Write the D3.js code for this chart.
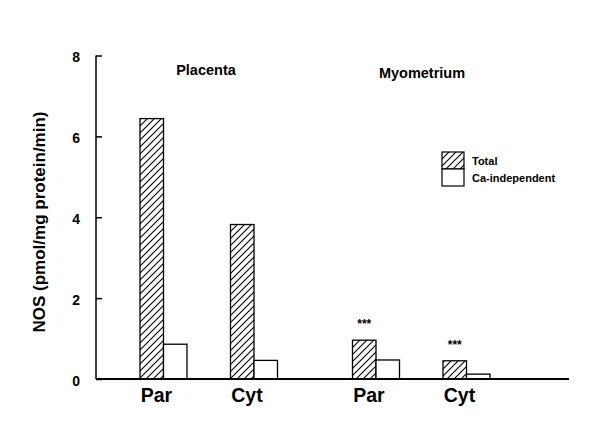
<!DOCTYPE html>
<html><head><meta charset="utf-8">
<script src="https://cdn.jsdelivr.net/npm/d3@7/dist/d3.min.js"></script>
<style>body{margin:0;background:#fff}svg{display:block}text{font-family:Arial,"Liberation Sans",sans-serif;font-weight:bold;fill:#000}</style>
</head><body><svg id="c" width="600" height="444"></svg>
<script>
const tissues = ["Placenta", "Myometrium"];
const samples = ["Par", "Cyt"];
const seriesNames = ["Total", "Ca-independent"];
const totalValues = [6.44, 3.82, 0.96, 0.45];
const caIndepValues = [0.86, 0.46, 0.47, 0.12];
const significance = ["", "", "***", "***"];
const yTicks = [0, 2, 4, 6, 8];
const yLabel = "NOS (pmol/mg protein/min)";

const svg = d3.select("#c");
const defs = svg.append("defs");
const pat = defs.append("pattern").attr("id","hatch").attr("patternUnits","userSpaceOnUse")
  .attr("width",7).attr("height",7);
pat.append("rect").attr("width",7).attr("height",7).attr("fill","#fff");
pat.append("path").attr("d","M-1,8 L8,-1 M-4,4 L4,-4 M3,11 L11,3").attr("stroke","#000").attr("stroke-width",1.1);

const y = d3.scaleLinear().domain([0,8]).range([379,55.5]);
const xOuter = d3.scaleBand().domain(tissues).range([102.5,527.5]).padding(0);
const xInner = d3.scaleBand().domain(samples).range([37.5,175]).paddingInner(1-47/90.5).paddingOuter(0);
const xSeries = d3.scaleBand().domain(seriesNames).range([0, xInner.bandwidth()]);

const rows = [];
tissues.forEach((t,ti)=>samples.forEach((s,si)=>{
  const i = ti*2+si;
  rows.push({tissue:t, sample:s, total:totalValues[i], ca:caIndepValues[i], sig:significance[i]});
}));
const gx = d => xOuter(d.tissue) + xInner(d.sample);

// bars
rows.forEach(d=>{
  [["Total",d.total,"url(#hatch)"],["Ca-independent",d.ca,"#fff"]].forEach(([k,v,f])=>{
    svg.append("rect").attr("x",gx(d)+xSeries(k)).attr("y",y(v))
      .attr("width",xSeries.bandwidth()).attr("height",y(0)-y(v))
      .attr("fill",f).attr("stroke","#000").attr("stroke-width",1.3);
  });
  if (d.sig) svg.append("text").attr("x",gx(d)+xSeries("Total")+xSeries.bandwidth()/2)
    .attr("y",y(d.total)-12).attr("text-anchor","middle").attr("font-size",12).text(d.sig);
  svg.append("text").attr("x",gx(d)+xInner.bandwidth()/2-7).attr("y",402)
    .attr("text-anchor","middle").attr("font-size",19.5).text(d.sample);
});

// axes
const yAxis = d3.axisLeft(y).tickValues(yTicks).tickSize(-6).tickPadding(16);
const ga = svg.append("g").attr("transform","translate(96,0)").call(yAxis);
ga.select(".domain").attr("d",`M0,${y(8)}V${y(0)}`).attr("stroke","#000").attr("stroke-width",1.5);
ga.selectAll(".tick line").attr("stroke","#000").attr("stroke-width",1.5);
ga.selectAll(".tick text").attr("font-size",14).attr("font-family","Arial").attr("font-weight","bold").attr("dy","0.45em");
svg.append("line").attr("x1",96).attr("x2",569).attr("y1",y(0)).attr("y2",y(0)).attr("stroke","#000").attr("stroke-width",1.8);

svg.append("text").attr("transform",`translate(45,222) rotate(-90)`).attr("text-anchor","middle")
  .attr("font-size",17).text(yLabel);

// tissue titles
svg.append("text").attr("x",206).attr("y",75).attr("text-anchor","middle").attr("font-size",14.5).text(tissues[0]);
svg.append("text").attr("x",422).attr("y",78).attr("text-anchor","middle").attr("font-size",14.5).text(tissues[1]);

// legend
const lg = svg.append("g").attr("transform","translate(442,152)");
seriesNames.forEach((n,i)=>{
  lg.append("rect").attr("x",0).attr("y",i*17).attr("width",22).attr("height",17)
    .attr("fill", i===0?"url(#hatch)":"#fff").attr("stroke","#000").attr("stroke-width",1.2);
  lg.append("text").attr("x",30).attr("y",i*17+13).attr("font-size",11).text(n);
});
</script></body></html>
